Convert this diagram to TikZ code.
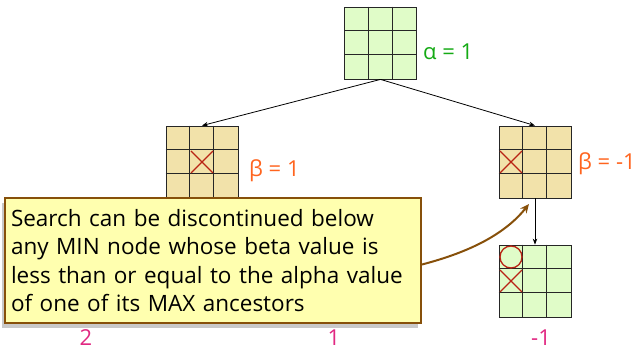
\documentclass[tikz,border=0pt]{standalone}
\usepackage{fontspec}
\setmainfont{Open Sans}
\usetikzlibrary{arrows.meta}
\definecolor{maxfill}{RGB}{224,252,200}
\definecolor{minfill}{RGB}{242,226,170}
\definecolor{xred}{RGB}{185,35,20}
\definecolor{alphagreen}{RGB}{20,170,20}
\definecolor{betaorange}{RGB}{255,100,30}
\definecolor{valpink}{RGB}{225,40,130}
\definecolor{notefill}{RGB}{255,255,175}
\definecolor{notebrown}{RGB}{135,80,10}
\newcommand\gridlines[1]{%
  \draw[gridline] ([xshift=24pt]#1.north west) -- ([xshift=24pt]#1.south west);
  \draw[gridline] ([xshift=48pt]#1.north west) -- ([xshift=48pt]#1.south west);
  \draw[gridline] ([yshift=-24pt]#1.north west) -- ([yshift=-24pt]#1.north east);
  \draw[gridline] ([yshift=-48pt]#1.north west) -- ([yshift=-48pt]#1.north east);}
\begin{document}
\begin{tikzpicture}[x=1pt,y=-1pt,
  board/.style={draw=black!85, line width=0.8pt, minimum size=72pt, inner sep=0pt, rectangle},
  maxboard/.style={board, fill=maxfill},
  minboard/.style={board, fill=minfill},
  gridline/.style={draw=black!85, line width=0.8pt},
  playmark/.style={draw=xred, line width=1.3pt},
  edge/.style={draw=black, line width=0.8pt, -{Stealth[length=6pt,width=4.5pt]}},
  lbl/.style={anchor=west, font=\fontsize{22}{24}\selectfont, inner sep=0pt},
  val/.style={font=\fontsize{22}{24}\selectfont, text=valpink, inner sep=0pt},
  note/.style={draw=notebrown, line width=2pt, fill=notefill, minimum width=416pt, minimum height=125pt, inner sep=6pt, text width=404pt, align=left, font=\fontsize{22.5}{28.5}\selectfont},
  pointer/.style={draw=notebrown, line width=2pt, -{Stealth[length=9pt,width=8pt]}}]
\useasboundingbox (0,0) rectangle (641,352);
% boards
\node[maxboard] (top) at (380.5,43) {};
\gridlines{top}
\node[minboard] (l) at (202,162) {};
\gridlines{l}
\node[minboard] (r) at (535,162) {};
\gridlines{r}
\node[maxboard] (leaf) at (535,281) {};
\gridlines{leaf}
% marks
\draw[playmark] ([xshift=-11pt,yshift=-11pt]l.center) -- ([xshift=11pt,yshift=11pt]l.center)
            ([xshift=-11pt,yshift=11pt]l.center) -- ([xshift=11pt,yshift=-11pt]l.center);
\coordinate (rc) at ([xshift=-24pt]r.center);
\draw[playmark] ([xshift=-11pt,yshift=-11pt]rc) -- ([xshift=11pt,yshift=11pt]rc)
            ([xshift=-11pt,yshift=11pt]rc) -- ([xshift=11pt,yshift=-11pt]rc);
\coordinate (lc) at ([xshift=-24pt]leaf.center);
\draw[playmark] ([xshift=-11pt,yshift=-11pt]lc) -- ([xshift=11pt,yshift=11pt]lc)
            ([xshift=-11pt,yshift=11pt]lc) -- ([xshift=11pt,yshift=-11pt]lc);
\coordinate (oc) at ([xshift=-24pt,yshift=24pt]leaf.center);
\draw[playmark] (oc) circle[radius=11pt];
% edges
\draw[edge] (top.south) -- (l.north);
\draw[edge] (top.south) -- (r.north);
\draw[edge] (r.south) -- (leaf.north);
% labels
\node[lbl, text=alphagreen] (alpha) at (423,52) {α = 1};
\node[lbl, text=betaorange] (b1) at (249,171) {β = 1};
\node[lbl, text=betaorange] (b2) at (578,164) {β = -1};
\node[val] (v1) at (86,338) {2};
\node[val] (v2) at (334,338) {1};
\node[val] (v3) at (541,338) {-1};
% note
\fill[black!30, opacity=0.7] (2,203) rectangle (418,328);
\node[note] (nt) at (213,260.5) {Search can be discontinued below\\any MIN node whose beta value is\\less than or equal to the alpha value\\of one of its MAX ancestors};
\coordinate (ptr) at (529,204);
\draw[pointer] ([yshift=-4pt]nt.east) .. controls (470,252) and (505,234) .. (ptr);
\end{tikzpicture}
\end{document}
